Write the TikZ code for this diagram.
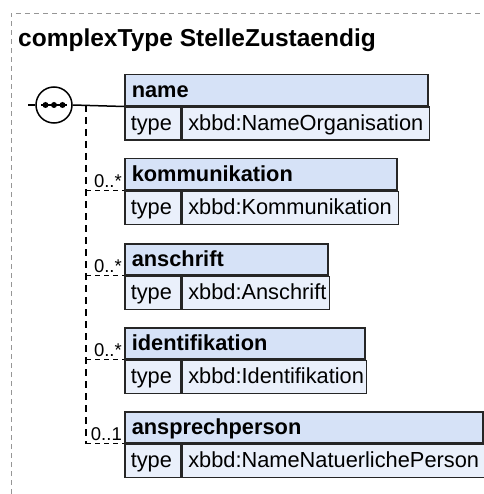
\documentclass[tikz,border=0pt]{standalone}
\usepackage{fontspec}
\setmainfont{Liberation Sans}
\usetikzlibrary{calc}

\definecolor{hdrblue}{RGB}{214,226,247}
\definecolor{rowblue}{RGB}{234,240,251}
\definecolor{framegray}{RGB}{150,150,150}

\begin{document}
\begin{tikzpicture}[x=1pt,y=-1pt,
	cellbox/.style={draw=black!85, line width=1.5pt, anchor=north west, inner xsep=6pt, inner ysep=0pt,
		minimum height=33pt, text height=16pt, text depth=2pt, align=left, fill=rowblue,
		font=\fontsize{21.8}{24}\selectfont},
	hdrbox/.style={cellbox, fill=hdrblue, minimum height=31pt, inner xsep=7pt, font=\fontsize{21.8}{24}\selectfont\bfseries},
	seqnode/.style={circle, draw=black, fill=white, line width=1.5pt, minimum size=36pt, inner sep=0pt},
	wire/.style={line width=1.5pt},
	spineline/.style={line width=2pt, dash pattern=on 7pt off 5pt},
	optline/.style={line width=1.2pt, dash pattern=on 5pt off 4pt},
	card/.style={inner sep=0pt, font=\fontsize{18.5}{20}\selectfont},
	framedash/.style={framegray, line width=0.9pt, dash pattern=on 5pt off 4pt}]
\useasboundingbox (0,0) rectangle (483,494);

%% frame and title
\draw [framedash] (11,494)--(11,13)--(483,13);
\node [anchor=base west, inner sep=0pt, font=\fontsize{24.5}{28}\selectfont\bfseries] (title) at (18,47) {complexType StelleZustaendig};

%% element boxes
\foreach \nm/\top/\rgt/\typ in {name/74/427/xbbd:NameOrganisation,
	kommunikation/158/396/xbbd:Kommunikation,
	anschrift/243/327/xbbd:Anschrift,
	identifikation/327/364/xbbd:Identifikation,
	ansprechperson/411/482/xbbd:NameNatuerlichePerson}{
	\pgfmathsetmacro\hw{\rgt-124-14}
	\pgfmathsetmacro\vw{\rgt-180-12}
	\node [hdrbox, text width=\hw pt] (h-\nm) at (124,\top) {\nm};
	\node [cellbox, text width=44pt] (t-\nm) at (h-\nm.south west) {type};
	\node [cellbox, text width=\vw pt] (v-\nm) at (t-\nm.north east) {\typ};
}

%% sequence
\coordinate (src) at (28,105);
\node [seqnode] (seq) at (54,105) {};
\draw [wire] (src)--(seq.west);
\draw [wire] (seq.east)--(h-name.south west);
\draw [line width=1.3pt] ([xshift=-13pt]seq.center)--([xshift=13pt]seq.center);
\foreach \k in {-8.5,0,8.5}{
	\fill ([xshift=\k pt]seq.center) circle (3pt);
}

%% optional children
\coordinate (spine) at (86,105);
\draw [spineline] (spine)--(spine |- h-ansprechperson.south west);
\foreach \nm/\card in {kommunikation/0..*, anschrift/0..*, identifikation/0..*, ansprechperson/0..1}{
	\draw [optline] (spine |- h-\nm.south west)--(h-\nm.south west);
	\node [card, anchor=base east] (k-\nm) at ([xshift=-2pt,yshift=3pt]h-\nm.south west) {\card};
}

\end{tikzpicture}
\end{document}
